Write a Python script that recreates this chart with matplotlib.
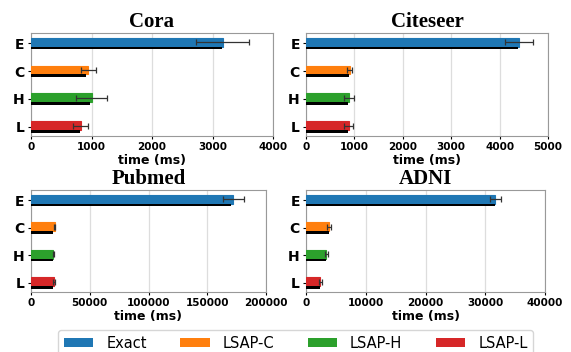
import matplotlib
matplotlib.use("Agg")
import matplotlib.pyplot as plt
from matplotlib.patches import Patch
import numpy as np

methods = ["E", "C", "H", "L"]
legend_names = ["Exact", "LSAP-C", "LSAP-H", "LSAP-L"]
colors = ["#1f77b4", "#ff7f0e", "#2ca02c", "#d62728"]

datasets = ["Cora", "Citeseer", "Pubmed", "ADNI"]
# mean time (colored bars), second measurement (black bars), std (error bars)
mean_cora = [3170, 950, 1000, 820]
black_cora = [3160, 910, 980, 810]
err_cora = [440, 130, 255, 125]

mean_citeseer = [4400, 900, 890, 880]
black_citeseer = [4390, 880, 870, 870]
err_citeseer = [280, 50, 105, 100]

mean_pubmed = [172000, 20000, 19000, 19500]
black_pubmed = [170000, 19000, 18800, 18500]
err_pubmed = [9000, 800, 700, 700]

mean_adni = [31700, 3900, 3400, 2400]
black_adni = [31600, 3800, 3300, 2300]
err_adni = [900, 350, 250, 200]

means = [mean_cora, mean_citeseer, mean_pubmed, mean_adni]
blacks = [black_cora, black_citeseer, black_pubmed, black_adni]
errs = [err_cora, err_citeseer, err_pubmed, err_adni]
xlims = [4000, 5000, 200000, 40000]
xticks = [np.arange(0, 4001, 1000), np.arange(0, 5001, 1000),
          np.arange(0, 200001, 50000), np.arange(0, 40001, 10000)]

W, H = 571, 352
fig = plt.figure(figsize=(W / 100, H / 100), dpi=100)

# axes boxes in pixels: left, right, top, bottom
boxes = [(31, 273, 33, 136), (306, 548, 33, 136),
         (31, 266, 190, 292), (306, 545, 190, 292)]

for k, name in enumerate(datasets):
    l, r, t, b = boxes[k]
    ax = fig.add_axes([l / W, 1 - b / H, (r - l) / W, (b - t) / H])
    pos = np.arange(len(methods))[::-1]  # E on top
    ax.barh(pos + 0.04, means[k], height=0.32, color=colors,
            edgecolor=[c for c in colors], linewidth=0.8, zorder=3)
    ax.barh(pos - 0.17, blacks[k], height=0.1, color="black", zorder=3)
    ax.errorbar(means[k], pos + 0.04, xerr=errs[k], fmt="none",
                ecolor="#333333", elinewidth=0.9, capsize=2.5, capthick=0.9,
                zorder=4)
    ax.set_ylim(-0.33, 3.37)
    ax.set_yticks(pos)
    ax.set_yticklabels(methods, fontsize=10, fontweight="bold")
    ax.set_xlim(0, xlims[k])
    ax.set_xticks(xticks[k])
    ax.set_xticklabels([str(v) for v in xticks[k]], fontsize=7.5,
                       fontweight="bold")
    ax.tick_params(axis="both", length=2.5, pad=2)
    ax.grid(axis="x", color="#dddddd", linewidth=0.9, zorder=0)
    ax.set_axisbelow(True)
    for sp in ax.spines.values():
        sp.set_color("#999999")
    ax.set_xlabel("time (ms)", fontsize=9, fontweight="bold", labelpad=1)
    ax.set_title(name, fontsize=15, fontweight="bold",
                 family="Liberation Serif", pad=4)

handles = [Patch(facecolor=c) for c in colors]
fig.legend(handles, legend_names, loc="upper center", ncol=4,
           bbox_to_anchor=(0.518, 1 - 330 / H), borderaxespad=0,
           fontsize=10.5, frameon=True, handlelength=2.0, handleheight=0.6,
           handletextpad=0.9, columnspacing=2.3,
           fancybox=True, edgecolor="#cccccc", borderpad=0.4)

fig.savefig("out.png", dpi=100)
